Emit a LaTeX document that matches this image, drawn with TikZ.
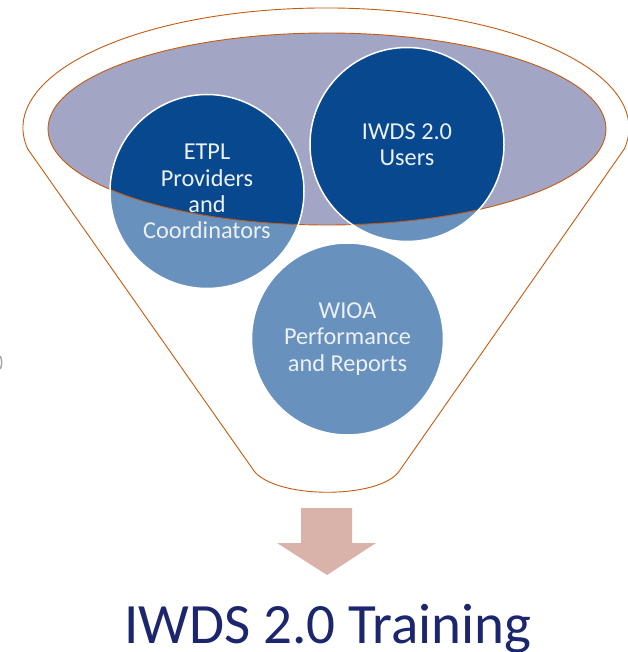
\documentclass[tikz,border=0pt]{standalone}
\usepackage{fontspec}
\setmainfont{Carlito}
\definecolor{funnelline}{RGB}{197,90,17}
\definecolor{ellfill}{RGB}{163,165,197}
\definecolor{darkblue}{RGB}{8,72,142}
\definecolor{lightblue}{RGB}{104,145,190}
\definecolor{bubtext}{RGB}{236,241,247}
\definecolor{arrowcol}{RGB}{217,178,170}
\definecolor{titlecol}{RGB}{28,38,110}
\begin{document}
\begin{tikzpicture}[x=1pt,y=-1pt,
  bub/.style={circle, minimum size=194pt, inner sep=0pt, draw=white, line width=1.5pt,
    align=center, text=bubtext, font=\fontsize{24.3}{26.2}\selectfont},
  funnel/.style={draw=funnelline, line width=0.9pt}]
\useasboundingbox (0,0) rectangle (627,652);
% funnel outline
\draw[funnel] (27.6,148.8) arc[start angle=170, end angle=370, x radius=303, y radius=120]
  -- (400,470) .. controls (382,500) and (270,500) .. (252,468) -- cycle;
% inner ellipse fill
\fill[ellfill] (327,129) ellipse[x radius=279, y radius=96];
% circle centres
\coordinate (cE) at (207,191.5);
\coordinate (cI) at (407,144.5);
\coordinate (cW) at (347.5,339);
\fill[lightblue] (cE) circle[radius=97];
\fill[lightblue] (cI) circle[radius=97];
\fill[lightblue] (cW) circle[radius=96];
\begin{scope}
  \clip (327,129) ellipse[x radius=279, y radius=96];
  \fill[darkblue] (cE) circle[radius=97];
  \fill[darkblue] (cI) circle[radius=97];
\end{scope}
\draw[funnel] (327,129) ellipse[x radius=279, y radius=96];
% bubbles
\node[bub] (etpl) at (cE) {ETPL\\Providers\\and\\Coordinators};
\node[bub] (iwds) at (cI) {IWDS 2.0\\Users};
\node[bub, minimum size=192pt] (wioa) at (cW) {WIOA\\Performance\\and Reports};
% arrow
\fill[arrowcol] (301,508) -- (352,508) -- (352,543) -- (376,543) -- (327,575) -- (277,543) -- (301,543) -- cycle;
% title
\node[anchor=base, text=titlecol, font=\fontsize{57}{60}\selectfont, inner sep=0pt] (title) at (328,643) {IWDS 2.0 Training};
% small mark at left edge
\draw[gray!70, line width=1.5pt] (0.3,356) .. controls (2.2,360) and (2.2,365) .. (0.3,369);
\end{tikzpicture}
\end{document}
